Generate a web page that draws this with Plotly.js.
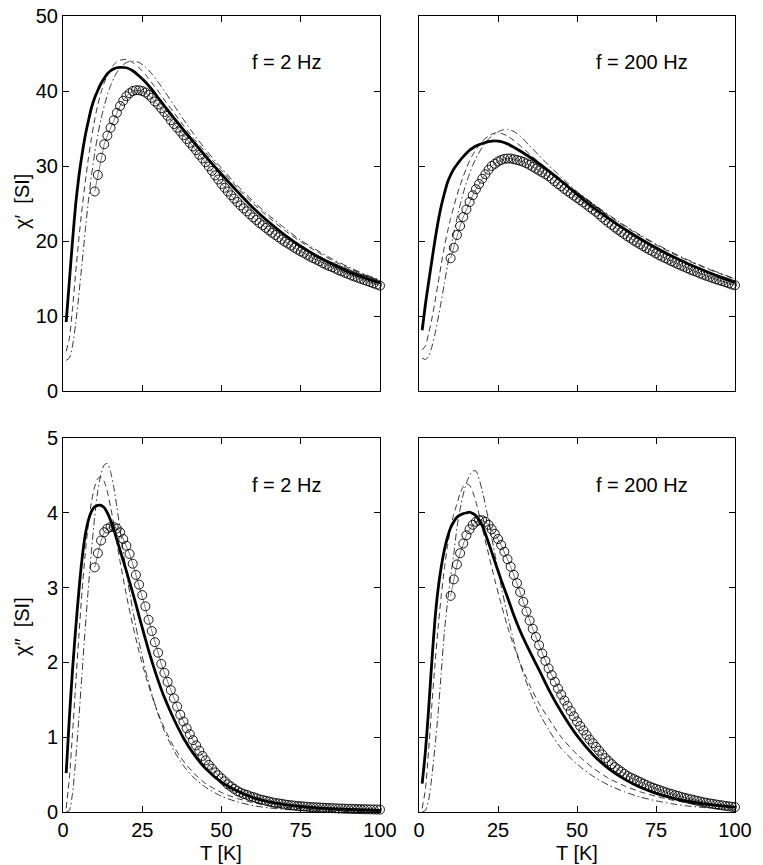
<!DOCTYPE html>
<html>
<head>
<meta charset="utf-8">
<script src="https://cdn.plot.ly/plotly-3.0.1.min.js"></script>
<style>
  html, body { margin: 0; padding: 0; background: #fff; }
  #chart { width: 763px; height: 865px; }
</style>
</head>
<body>
<div id="chart"></div>
<script>
// measured temperatures (circles) and model temperatures (lines), K
var tMeas = [10,11,12,13,14,15,16,17,18,19,20,21,22,23,24,25,26,27,28,29,30,
  31,32,33,34,35,36,37,38,39,40,41,42,43,44,45,46,47,48,49,50,
  51,52,53,54,55,56,57,58,59,60,61,62,63,64,65,66,67,68,69,70,
  71,72,73,74,75,76,77,78,79,80,81,82,83,84,85,86,87,88,89,90,
  91,92,93,94,95,96,97,98,99,100];
var tFit = [1,2,3,4,5,6,7,8,9,10,11,12,13,14,15,16,17,18,20,22,24,26,28,30,32,35,38,41,45,50,55,60,65,70,75,80,85,90,95,100];

var xTicks = [0, 25, 50, 75, 100];

// chi' , f = 2 Hz
var re2Meas = [26.6,28.8,31.1,32.9,34.05,35.1,36.1,37.1,38.0,38.7,39.3,39.7,40.0,40.1,40.1,40.0,39.8,39.5,39.1,38.6,38.2,
  37.7,37.2,36.7,36.1,35.6,35.1,34.6,34.1,33.6,33.1,32.6,32.1,31.5,31.0,30.5,29.95,29.35,28.75,28.2,27.6,
  27.1,26.6,26.1,25.65,25.2,24.75,24.35,23.95,23.55,23.15,22.8,22.4,22.1,21.75,21.4,21.1,20.8,20.5,20.2,19.9,
  19.65,19.4,19.1,18.85,18.6,18.4,18.15,17.9,17.7,17.5,17.3,17.05,16.85,16.65,16.5,16.3,16.1,15.95,15.75,15.6,
  15.4,15.25,15.1,14.95,14.8,14.65,14.5,14.35,14.2,14.05];
var re2Solid = [9.2,14.6,20.0,24.9,28.6,31.5,34.0,36.0,37.8,39.1,40.1,41.0,41.7,42.3,42.7,42.95,43.1,43.15,43.1,42.7,42.0,41.2,40.2,39.1,38.0,36.4,34.8,33.3,31.3,28.9,26.6,24.4,22.5,20.8,19.3,18.0,16.9,15.9,15.1,14.4];
var re2Dash = [5.3,7.0,11.0,15.8,20.3,24.3,27.8,31.0,33.8,36.2,38.2,39.8,41.1,42.1,42.9,43.5,43.9,44.1,44.2,43.8,43.1,42.2,41.1,40.0,38.8,37.1,35.4,33.8,31.8,29.4,27.1,25.0,23.1,21.4,19.9,18.6,17.4,16.4,15.5,14.7];
var re2DashDot = [4.1,4.4,6.0,9.0,12.8,17.0,21.3,25.3,28.8,31.7,34.2,36.3,38.0,39.5,40.7,41.7,42.5,43.1,43.8,44.0,43.8,43.2,42.3,41.2,40.0,38.1,36.2,34.4,32.2,29.7,27.4,25.3,23.4,21.7,20.1,18.8,17.6,16.55,15.6,14.8];

// chi' , f = 200 Hz
var re200Meas = [17.7,19.1,20.8,22.0,23.2,24.2,25.2,26.1,26.9,27.6,28.3,28.9,29.5,30.0,30.3,30.6,30.8,30.95,31.0,31.0,30.9,
  30.8,30.7,30.55,30.35,30.15,29.9,29.65,29.4,29.15,28.9,28.65,28.3,27.95,27.6,27.3,26.95,26.65,26.35,26.05,25.75,
  25.45,25.15,24.85,24.5,24.2,23.9,23.55,23.15,22.8,22.45,22.15,21.8,21.5,21.2,20.9,20.6,20.35,20.05,19.8,19.55,
  19.3,19.05,18.8,18.6,18.35,18.1,17.9,17.7,17.5,17.3,17.1,16.9,16.7,16.55,16.35,16.15,16.0,15.85,15.65,15.5,
  15.35,15.2,15.05,14.9,14.75,14.65,14.5,14.35,14.2,14.1];
var re200Solid = [8.1,11.5,14.4,17.2,20.0,22.5,24.6,26.3,27.8,28.8,29.6,30.2,30.75,31.25,31.7,32.1,32.4,32.65,33.0,33.25,33.35,33.25,32.95,32.5,32.0,31.2,30.3,29.35,28.0,26.2,24.5,23.0,21.6,20.3,19.1,18.0,17.0,16.1,15.25,14.45];
var re200Dash = [5.5,6.0,7.6,9.5,11.8,14.3,16.8,19.2,21.2,23.0,24.6,26.1,27.4,28.6,29.7,30.7,31.5,32.2,33.3,34.0,34.4,34.35,34.0,33.4,32.7,31.6,30.5,29.5,28.2,26.5,24.9,23.4,22.0,20.7,19.5,18.4,17.4,16.5,15.7,14.9];
var re200DashDot = [4.4,4.2,4.6,5.8,7.5,9.6,11.9,14.3,16.7,19.0,21.1,23.0,24.8,26.4,27.8,29.0,30.1,31.0,32.5,33.6,34.3,34.75,34.9,34.6,34.0,32.7,31.4,30.1,28.5,26.6,25.0,23.5,22.1,20.8,19.6,18.5,17.5,16.6,15.75,14.95];

// chi'' , f = 2 Hz
var im2Meas = [3.27,3.46,3.63,3.74,3.79,3.81,3.81,3.79,3.74,3.65,3.56,3.45,3.32,3.17,3.04,2.90,2.75,2.57,2.42,2.27,2.13,
  1.98,1.86,1.74,1.63,1.52,1.41,1.30,1.21,1.12,1.04,0.96,0.89,0.82,0.75,0.69,0.63,0.58,0.53,0.49,0.45,
  0.41,0.37,0.34,0.31,0.28,0.26,0.24,0.23,0.21,0.20,0.185,0.17,0.16,0.15,0.14,0.13,0.12,0.115,0.11,0.10,
  0.095,0.09,0.085,0.08,0.077,0.074,0.07,0.067,0.064,0.062,0.06,0.057,0.055,0.053,0.051,0.049,0.047,0.046,0.044,0.043,
  0.042,0.04,0.039,0.038,0.037,0.036,0.035,0.034,0.033,0.032];
var im2Solid = [0.52,1.25,1.9,2.45,2.95,3.38,3.7,3.9,4.02,4.08,4.1,4.1,4.07,4.0,3.9,3.78,3.64,3.5,3.22,2.93,2.62,2.31,2.02,1.76,1.53,1.24,0.99,0.79,0.58,0.4,0.28,0.19,0.135,0.1,0.074,0.055,0.042,0.034,0.028,0.023];
var im2Dash = [0.05,0.45,1.05,1.7,2.35,2.95,3.45,3.85,4.15,4.35,4.46,4.48,4.42,4.28,4.08,3.85,3.6,3.35,2.9,2.5,2.14,1.83,1.56,1.32,1.12,0.87,0.68,0.53,0.38,0.26,0.18,0.125,0.088,0.062,0.045,0.033,0.025,0.019,0.015,0.012];
var im2DashDot = [0.0,0.02,0.25,0.7,1.25,1.85,2.45,3.0,3.5,3.95,4.3,4.52,4.64,4.66,4.55,4.35,4.08,3.78,3.2,2.7,2.27,1.9,1.58,1.31,1.08,0.82,0.62,0.47,0.33,0.21,0.135,0.085,0.055,0.035,0.023,0.015,0.01,0.007,0.005,0.003];

// chi'' , f = 200 Hz
var im200Meas = [2.89,3.11,3.31,3.46,3.59,3.70,3.78,3.84,3.88,3.90,3.90,3.88,3.84,3.78,3.72,3.65,3.57,3.48,3.38,3.28,3.17,
  3.06,2.94,2.81,2.68,2.56,2.45,2.34,2.23,2.12,2.02,1.92,1.83,1.74,1.65,1.57,1.49,1.42,1.35,1.28,1.21,
  1.15,1.09,1.03,0.97,0.92,0.87,0.82,0.77,0.72,0.68,0.64,0.60,0.57,0.54,0.51,0.48,0.46,0.44,0.42,0.40,
  0.38,0.36,0.34,0.325,0.31,0.295,0.28,0.265,0.25,0.24,0.225,0.215,0.2,0.19,0.18,0.17,0.16,0.15,0.14,0.13,
  0.122,0.115,0.108,0.1,0.094,0.088,0.082,0.076,0.07,0.065];
var im200Solid = [0.38,0.8,1.35,1.98,2.55,2.97,3.27,3.5,3.67,3.8,3.88,3.94,3.97,3.99,4.0,4.01,3.99,3.96,3.83,3.6,3.35,3.1,2.87,2.63,2.42,2.15,1.9,1.64,1.34,1.02,0.77,0.58,0.44,0.33,0.25,0.19,0.145,0.11,0.085,0.065];
var im200Dash = [0.05,0.3,0.8,1.4,1.95,2.45,2.88,3.25,3.55,3.8,3.98,4.12,4.26,4.35,4.39,4.37,4.28,4.15,3.8,3.45,3.1,2.78,2.48,2.22,1.99,1.7,1.45,1.25,1.0,0.77,0.59,0.45,0.35,0.27,0.21,0.16,0.125,0.1,0.08,0.062];
var im200DashDot = [0.0,0.02,0.15,0.45,0.85,1.3,1.85,2.4,2.8,3.15,3.45,3.8,4.05,4.25,4.4,4.5,4.56,4.56,4.3,3.9,3.45,3.02,2.63,2.28,1.98,1.62,1.33,1.1,0.85,0.64,0.48,0.36,0.27,0.2,0.15,0.11,0.08,0.06,0.045,0.035];

var panels = [
  {xa: "x",  ya: "y",  meas: re2Meas,   solid: re2Solid,   dash: re2Dash,   dashdot: re2DashDot,   label: "f = 2 Hz",   ly: 43.9},
  {xa: "x2", ya: "y2", meas: re200Meas, solid: re200Solid, dash: re200Dash, dashdot: re200DashDot, label: "f = 200 Hz", ly: 43.9},
  {xa: "x3", ya: "y3", meas: im2Meas,   solid: im2Solid,   dash: im2Dash,   dashdot: im2DashDot,   label: "f = 2 Hz",   ly: 4.37},
  {xa: "x4", ya: "y4", meas: im200Meas, solid: im200Solid, dash: im200Dash, dashdot: im200DashDot, label: "f = 200 Hz", ly: 4.37}
];

var data = [];
var annotations = [];
panels.forEach(function (p) {
  data.push({
    x: tMeas, y: p.meas, xaxis: p.xa, yaxis: p.ya,
    mode: "lines+markers", cliponaxis: false,
    line: {color: "black", width: 0.5},
    marker: {symbol: "circle-open", size: 9, color: "black", line: {width: 0.9, color: "black"}}
  });
  data.push({
    x: tFit, y: p.solid, xaxis: p.xa, yaxis: p.ya, mode: "lines",
    line: {color: "black", width: 2.8, shape: "spline", smoothing: 0.6}
  });
  data.push({
    x: tFit, y: p.dash, xaxis: p.xa, yaxis: p.ya, mode: "lines",
    line: {color: "black", width: 0.8, dash: "6px,4px", shape: "spline", smoothing: 0.6}
  });
  data.push({
    x: tFit, y: p.dashdot, xaxis: p.xa, yaxis: p.ya, mode: "lines",
    line: {color: "black", width: 0.8, dash: "7px,3px,1.5px,3px", shape: "spline", smoothing: 0.6}
  });
  annotations.push({
    xref: p.xa, yref: p.ya, x: 70.5, y: p.ly, text: p.label, showarrow: false,
    xanchor: "center", yanchor: "middle", font: {size: 20, color: "black"}
  });
});

var font = {family: "Liberation Sans, Arial, sans-serif", size: 20, color: "black"};

function xAxis(domain, anchor, labels) {
  return {
    domain: domain, anchor: anchor, range: [0, 100], tickvals: xTicks,
    showticklabels: labels, ticks: "inside", ticklen: 6, tickcolor: "black",
    showline: true, mirror: "ticks", linecolor: "black", linewidth: 1,
    showgrid: false, zeroline: false, tickfont: font
  };
}
function yAxis(domain, anchor, range, dtick, labels) {
  return {
    domain: domain, anchor: anchor, range: range, dtick: dtick, tick0: 0,
    showticklabels: labels, ticks: "inside", ticklen: 6, tickcolor: "black",
    showline: true, mirror: "ticks", linecolor: "black", linewidth: 1,
    showgrid: false, zeroline: false, tickfont: font
  };
}

var colL = [0, 0.4717], colR = [0.5298, 1.0];
var rowT = [0.5289, 1.0], rowB = [0, 0.4698];

annotations.push({xref: "paper", yref: "paper", x: -0.061, y: 0.7663, text: "χ′  [SI]",
  textangle: -90, showarrow: false, xanchor: "center", yanchor: "middle", font: font});
annotations.push({xref: "paper", yref: "paper", x: -0.061, y: 0.2324, text: "χ″  [SI]",
  textangle: -90, showarrow: false, xanchor: "center", yanchor: "middle", font: font});
annotations.push({xref: "paper", yref: "paper", x: 0.2351, y: -0.0515, text: "T [K]",
  showarrow: false, xanchor: "center", yanchor: "middle", font: font});
annotations.push({xref: "paper", yref: "paper", x: 0.7649, y: -0.0515, text: "T [K]",
  showarrow: false, xanchor: "center", yanchor: "middle", font: font});

var layout = {
  width: 763, height: 865,
  margin: {l: 63, r: 28, t: 16, b: 53},
  paper_bgcolor: "white", plot_bgcolor: "white",
  showlegend: false, font: font,
  xaxis:  xAxis(colL, "y",  false),
  yaxis:  yAxis(rowT, "x",  [0, 50], 10, true),
  xaxis2: xAxis(colR, "y2", false),
  yaxis2: yAxis(rowT, "x2", [0, 50], 10, false),
  xaxis3: xAxis(colL, "y3", true),
  yaxis3: yAxis(rowB, "x3", [0, 5], 1, true),
  xaxis4: xAxis(colR, "y4", true),
  yaxis4: yAxis(rowB, "x4", [0, 5], 1, false),
  annotations: annotations
};

Plotly.newPlot("chart", data, layout, {displayModeBar: false, staticPlot: true});
</script>
</body>
</html>
